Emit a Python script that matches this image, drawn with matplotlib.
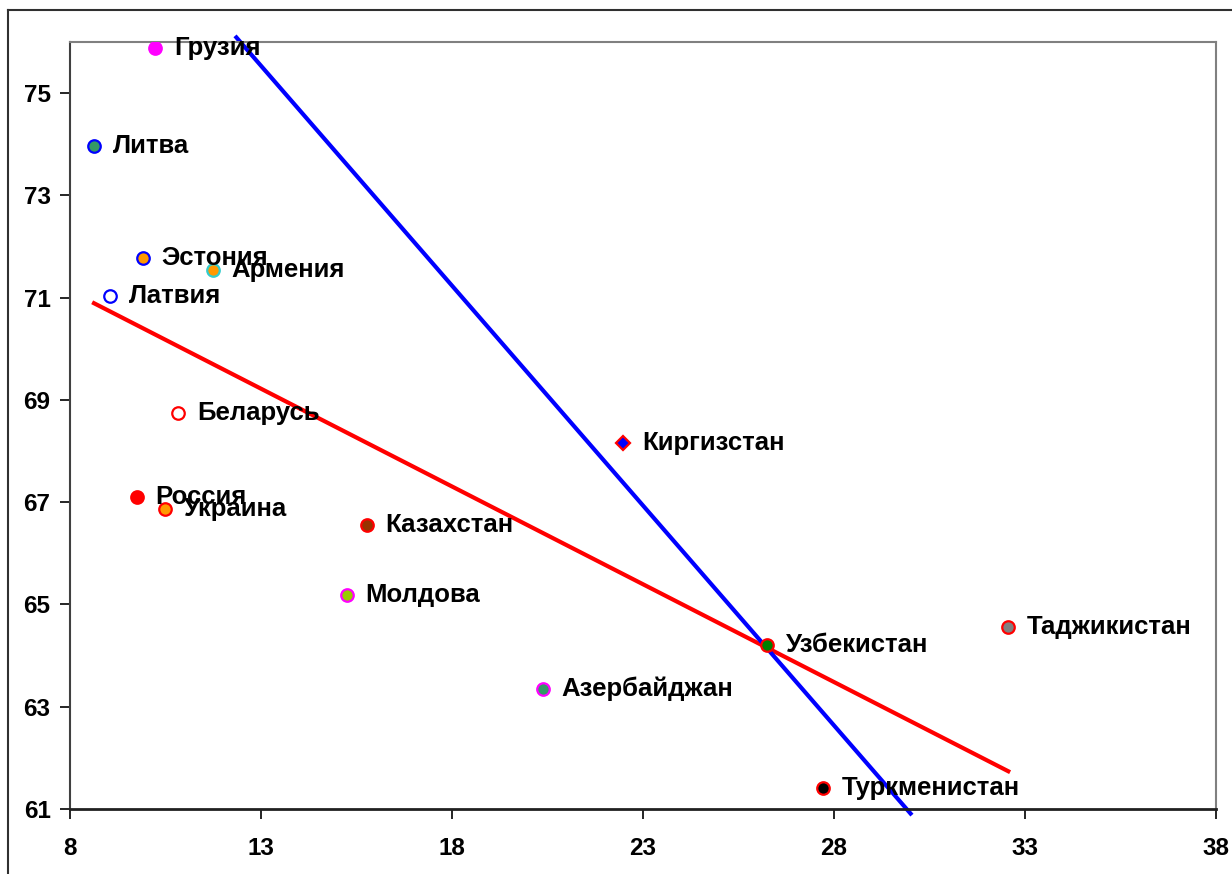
import matplotlib
matplotlib.use("Agg")
import matplotlib.pyplot as plt
from matplotlib.lines import Line2D

plt.rcParams['font.family'] = ['Liberation Sans', 'DejaVu Sans']

countries = ["Грузия", "Литва", "Эстония", "Армения", "Латвия", "Беларусь",
             "Россия", "Украина", "Казахстан", "Молдова", "Киргизстан",
             "Узбекистан", "Таджикистан", "Азербайджан", "Туркменистан"]
x_vals = [10.23, 8.63, 9.91, 11.74, 9.05, 10.83, 9.75, 10.49, 15.77, 15.25,
          22.48, 26.25, 32.55, 20.38, 27.71]
y_vals = [75.88, 73.96, 71.77, 71.54, 71.03, 68.74, 67.10, 66.87, 66.55, 65.18,
          68.16, 64.21, 64.56, 63.35, 61.41]
face_colors = ["#FF00FF", "#339966", "#FF9900", "#FF9900", "#FFFFFF", "#FFFFFF",
               "#FF0000", "#FF9900", "#993300", "#99CC00", "#0000FF",
               "#008000", "#808080", "#339966", "#000000"]
edge_colors = ["#FF00FF", "#0000FF", "#0000FF", "#33CCCC", "#0000FF", "#FF0000",
               "#FF0000", "#FF0000", "#FF0000", "#FF00FF", "#FF0000",
               "#FF0000", "#FF0000", "#FF00FF", "#FF0000"]
markers = ["o"] * 10 + ["D"] + ["o"] * 4

red_line_x = [8.58, 32.61]
red_line_y = [70.91, 61.72]
blue_line_x = [12.32, 30.04]
blue_line_y = [76.12, 60.88]

x_ticks = [8, 13, 18, 23, 28, 33, 38]
y_ticks = [61, 63, 65, 67, 69, 71, 73, 75]

fig = plt.figure(figsize=(12.32, 8.74), dpi=100)
ax = fig.add_axes([70/1232, 1 - 809/874, (1216-70)/1232, (809-42)/874])

ax.plot(red_line_x, red_line_y, color="#FF0000", lw=3.0, solid_capstyle='butt', zorder=2)
ax.plot(blue_line_x, blue_line_y, color="#0000FF", lw=3.0, solid_capstyle='butt',
        clip_on=False, zorder=2)

for name, xv, yv, fc, ec, m in zip(countries, x_vals, y_vals, face_colors, edge_colors, markers):
    ms = 9 if m == "o" else 7.5
    ax.plot([xv], [yv], marker=m, ms=ms, mfc=fc, mec=ec, mew=1.6, ls='none', zorder=3)
    ax.annotate(name, (xv, yv), xytext=(13.5, 0), textcoords='offset points',
                ha='left', va='center', fontsize=18.5, fontweight='bold', color='black',
                zorder=4)

ax.set_xlim(8, 38)
ax.set_ylim(61, 76)
ax.set_xticks(x_ticks)
ax.set_yticks(y_ticks)
ax.set_xticklabels([str(t) for t in x_ticks])
ax.set_yticklabels([str(t) for t in y_ticks])
ax.tick_params(axis='both', direction='out', length=7, width=1.2, labelsize=17.5,
               colors='black')
ax.tick_params(axis='x', pad=13)
ax.tick_params(axis='y', pad=7)
for lab in ax.get_xticklabels() + ax.get_yticklabels():
    lab.set_fontweight('bold')

ax.spines['left'].set_color('#404040')
ax.spines['left'].set_linewidth(1.5)
ax.spines['bottom'].set_color('#202020')
ax.spines['bottom'].set_linewidth(2.0)
ax.spines['top'].set_color('#808080')
ax.spines['top'].set_linewidth(1.5)
ax.spines['right'].set_color('#808080')
ax.spines['right'].set_linewidth(1.5)

# outer chart border
fig.add_artist(Line2D([8/1232, 8/1232], [0, 1 - 10/874], transform=fig.transFigure,
                      color='#303030', lw=1.5))
fig.add_artist(Line2D([8/1232, 1], [1 - 10/874, 1 - 10/874], transform=fig.transFigure,
                      color='#303030', lw=1.5))

fig.savefig("out.png", dpi=100)
